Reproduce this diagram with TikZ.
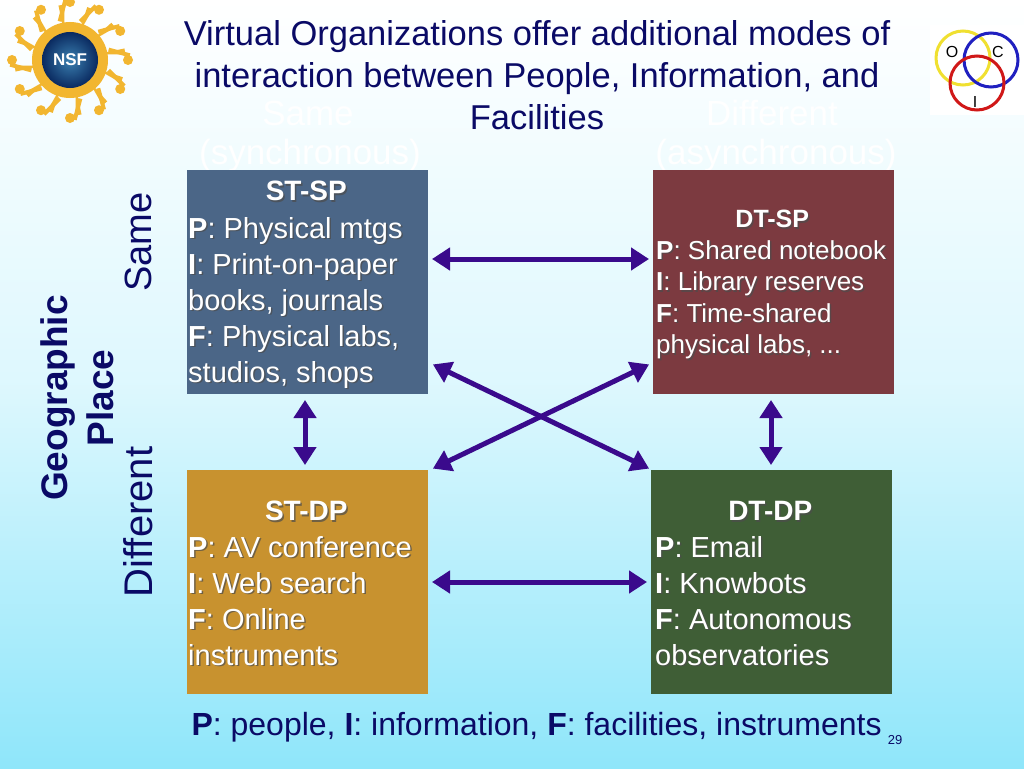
\documentclass[tikz,border=0pt]{standalone}
\usepackage{fontspec}
\setmainfont{Liberation Sans}
\usetikzlibrary{arrows.meta,shadows}
\definecolor{navy}{HTML}{0A0A66}
\definecolor{arr}{HTML}{3A0A8C}
\definecolor{bgtop}{HTML}{FFFFFF}
\definecolor{bgbot}{HTML}{8FE6FA}
\definecolor{cblue}{HTML}{4B6687}
\definecolor{cred}{HTML}{7C3A40}
\definecolor{corange}{HTML}{C8922F}
\definecolor{cgreen}{HTML}{3F5E36}
\definecolor{sun}{HTML}{F2B630}
\definecolor{globein}{HTML}{3A7FB0}
\definecolor{globeout}{HTML}{0A2A60}
\definecolor{oy}{HTML}{F0E030}
\definecolor{ob}{HTML}{2020C0}
\definecolor{orr}{HTML}{D01818}
\tikzset{
  box/.style={anchor=north west,inner sep=0pt,minimum width=241pt,minimum height=224pt},
  btext/.style={anchor=north west,align=left,inner sep=0pt,text=white,font=\fontsize{29}{36}\selectfont},
  ghost/.style={text=white,font=\fontsize{35}{40}\selectfont},
  link/.style={arr,line width=5pt,{Triangle[length=18pt,width=22pt]}-{Triangle[length=18pt,width=22pt]},shorten <=1pt,shorten >=1pt},
}
\newcommand{\shd}[1]{\tikz[baseline=(t.base)]{\node[inner sep=0pt,text=black!70,opacity=.7] at (1.5pt,-1.5pt){#1};\node(t)[inner sep=0pt]{#1};}}
\begin{document}
\begin{tikzpicture}[x=1pt,y=-1pt]
\useasboundingbox (0,0) rectangle (1024,768);
\shade[top color=bgtop,bottom color=bgbot,middle color=bgtop!70!bgbot] (0,0) rectangle (1024,768);
% ghost headers
\node[ghost] (h1) at (308,113) {Same};
\node[ghost] (h2) at (310,155) {(synchronous)};
\node[ghost] (h3) at (772,113) {Different};
\node[ghost] (h4) at (776,155) {(asynchronous)};
% title
\node[text=navy,align=center,font=\fontsize{34.5}{42}\selectfont] (title) at (537,75) {Virtual Organizations offer additional modes of\\interaction between People, Information, and\\Facilities};
% boxes
\node[box,fill=cblue] (stsp) at (187,170) {};
\node[box,fill=cred] (dtsp) at (653,170) {};
\node[box,fill=corange] (stdp) at (187,470) {};
\node[box,fill=cgreen] (dtdp) at (651,470) {};
\node[text=white,font=\fontsize{28}{30}\bfseries] (l1) at (307,192) {\shd{ST-SP}};
\node[btext] (t1) at (188,217) {\shd{\textbf{P}: Physical mtgs}\\\shd{\textbf{I}: Print-on-paper}\\\shd{books, journals}\\\shd{\textbf{F}: Physical labs,}\\\shd{studios, shops}};
\node[text=white,font=\fontsize{25}{28}\bfseries] (l2) at (773,220) {\shd{DT-SP}};
\node[btext,font=\fontsize{26}{31.5}\selectfont] (t2) at (656,240) {\shd{\textbf{P}: Shared notebook}\\\shd{\textbf{I}: Library reserves}\\\shd{\textbf{F}: Time-shared}\\\shd{physical labs, ...}};
\node[text=white,font=\fontsize{28}{30}\bfseries] (l3) at (307,512) {\shd{ST-DP}};
\node[btext] (t3) at (188,536) {\shd{\textbf{P}: AV conference}\\\shd{\textbf{I}: Web search}\\\shd{\textbf{F}: Online}\\\shd{instruments}};
\node[text=white,font=\fontsize{28}{30}\bfseries] (l4) at (771,512) {\shd{DT-DP}};
\node[btext] (t4) at (655,536) {\shd{\textbf{P}: Email}\\\shd{\textbf{I}: Knowbots}\\\shd{\textbf{F}: Autonomous}\\\shd{observatories}};
% arrows
\coordinate (a1) at (431,259); \coordinate (a2) at (650,259);
\coordinate (b1) at (431,582); \coordinate (b2) at (648,582);
\coordinate (c1) at (305,399); \coordinate (c2) at (305,466);
\coordinate (d1) at (771,399); \coordinate (d2) at (771,466);
\coordinate (e1) at (432,364); \coordinate (e2) at (650,469);
\coordinate (f1) at (650,364); \coordinate (f2) at (432,469);
\draw[link] (a1) -- (a2);
\draw[link] (b1) -- (b2);
\draw[link] (c1) -- (c2);
\draw[link] (d1) -- (d2);
\draw[link] (e1) -- (e2);
\draw[link] (f1) -- (f2);
% side labels
\node[rotate=90,text=navy,align=center,font=\fontsize{37}{46}\bfseries] (gp) at (77,398) {Geographic\\Place};
\node[rotate=90,text=navy,font=\fontsize{38}{40}\selectfont] (s1) at (138,242) {Same};
\node[rotate=90,text=navy,font=\fontsize{40}{42}\selectfont] (s2) at (138,522) {Different};
% bottom
\node[text=navy,font=\fontsize{32}{36}\selectfont,anchor=west] (foot) at (188,727) {\textbf{P}: people, \textbf{I}: information, \textbf{F}: facilities, instruments};
\node[text=navy,font=\fontsize{13}{16}\selectfont] (pg) at (895,740) {29};
% NSF logo
\foreach \a in {0,30,...,330}{
  \fill[sun] (70,60) -- ++(\a-9:36) -- ++(\a:22) -- ++(\a+100:6) -- ++(\a-100:12) -- cycle;
  \fill[sun] (70,60) ++(\a:58) circle (5);
  \draw[sun,line width=4pt] (70,60) ++(\a-15:40) -- ++(\a+15:22);
}
\fill[sun] (70,60) circle (38);
\shade[inner color=globein,outer color=globeout] (70,60) circle (28);
\node[text=white,font=\fontsize{17}{20}\bfseries\rmfamily] (nsf) at (70,60) {NSF};
% OCI logo
\fill[white] (930,25) rectangle (1024,115);
\draw[oy,line width=3pt] (963,58) circle (27);
\draw[ob,line width=3pt] (991,60) circle (27);
\draw[orr,line width=3pt] (977,83) circle (27);
\node[font=\fontsize{16}{18}\selectfont] (oo) at (952,52) {O};
\node[font=\fontsize{16}{18}\selectfont] (oc) at (998,52) {C};
\node[font=\fontsize{16}{18}\selectfont] (oi) at (975,102) {I};
\end{tikzpicture}
\end{document}
